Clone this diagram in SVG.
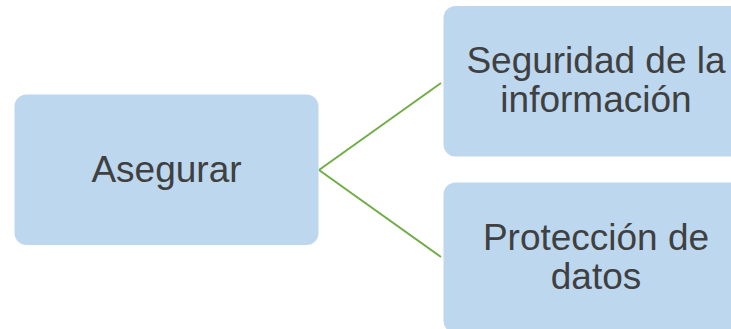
<svg xmlns="http://www.w3.org/2000/svg" width="731" height="329" viewBox="0 0 731 329">
<style>
.box{fill:#BDD7EE;}
.t{font-family:"Liberation Sans",Arial,sans-serif;font-size:37px;fill:#404040;text-anchor:middle;}
.c{stroke:#70AD47;stroke-width:2;fill:none;}
</style>
<rect width="731" height="329" fill="#FFFFFF"/>
<g id="connectors">
<path class="c" d="M319,170 L441,83"/>
<path class="c" d="M319,170 L441,257"/>
</g>
<g id="asegurar">
<rect class="box" x="14.5" y="94.5" width="304" height="150.5" rx="12"/>
<text class="t" x="166.5" y="182">Asegurar</text>
</g>
<g id="seguridad">
<rect class="box" x="443.5" y="6" width="304" height="150.5" rx="12"/>
<text class="t" x="596" y="73">Seguridad de la</text>
<text class="t" x="596" y="112">información</text>
</g>
<g id="proteccion">
<rect class="box" x="443.5" y="182.5" width="304" height="150.5" rx="12"/>
<text class="t" x="596" y="250">Protección de</text>
<text class="t" x="596" y="289">datos</text>
</g>
</svg>
